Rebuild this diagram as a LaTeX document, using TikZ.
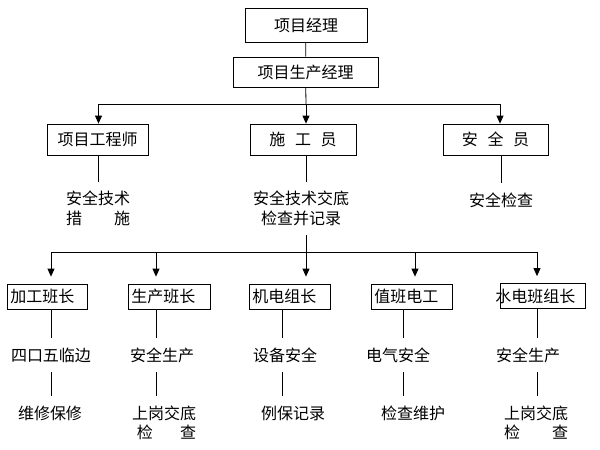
\documentclass[tikz,border=0pt]{standalone}
\usepackage{fontspec}
\setmainfont{Noto Sans CJK SC}
\usetikzlibrary{arrows.meta}

\begin{document}
\begin{tikzpicture}[x=1pt,y=-1pt,>={Triangle[width=7pt,length=8pt]},thick,
    every node/.style={font=\fontsize{16}{19.5}\selectfont},
    post node/.style={draw,inner sep=0pt},
    crew node/.style={draw,anchor=west,minimum height=25,inner xsep=3pt,inner ysep=0pt,align=left},
    duty node/.style={align=center,inner xsep=0pt,inner ysep=9pt}]

  \useasboundingbox (0,0) rectangle (600,450);

  % management
  \node[post node,minimum width=122,minimum height=34] (pm) at (306,25) {项目经理};
  \node[post node,minimum width=145,minimum height=30] (ppm) at (305.5,72) {项目生产经理};
  \node[post node,minimum width=101,minimum height=31] (eng) at (97.5,139.5) {项目工程师};
  \node[post node,minimum width=106,minimum height=31] (sup) at (303,139.5) {施\hspace{0.6em}工\hspace{0.6em}员};
  \node[post node,minimum width=105,minimum height=31] (saf) at (495.5,139.5) {安\hspace{0.6em}全\hspace{0.6em}员};

  \node[duty node] (engd) at (98,208.5) {安全技术\\\makebox[4em]{措\hfill 施}};
  \node[duty node] (supd) at (301,208.5) {安全技术交底\\检查并记录};
  \node[duty node] (safd) at (501,200) {安全检查};

  % teams
  \node[crew node,text width=74] (g1) at (7,296.5) {加工班长};
  \node[crew node,text width=76] (g2) at (128,296.5) {生产班长};
  \node[crew node,text width=75] (g3) at (249,296.5) {机电组长};
  \node[crew node,text width=75] (g4) at (371,296.5) {值班电工};
  \node[crew node,text width=79] (g5) at (500,296) {\hspace*{-8pt}水电班组长};

  \node[duty node] (d1) at (51,355) {四口五临边};
  \node[duty node] (d2) at (162,355) {安全生产};
  \node[duty node] (d3) at (285,355) {设备安全};
  \node[duty node] (d4) at (398,355) {电气安全};
  \node[duty node] (d5) at (528,355) {安全生产};

  \node[duty node] (e1) at (50,413) {维修保修};
  \node[duty node] (e2) at (164,423) {上岗交底\\\makebox[4em]{\hspace{0.3em}检\hfill 查}};
  \node[duty node] (e3) at (293,413) {例保记录};
  \node[duty node] (e4) at (413,413) {检查维护};
  \node[duty node] (e5) at (536,423) {上岗交底\\\makebox[4em]{检\hfill 查}};

  \coordinate (bus) at (306,104);
  \foreach \i/\x in {1/51,2/156,3/306,4/415,5/537}
    \coordinate (b\i) at (\x,252);
  \foreach \i/\x in {1/51,2/156,3/282,4/403,5/537}
    \coordinate (k\i) at (\x,252);

  \path (pm) edge (ppm)
        (ppm) edge (bus);
  \draw[->] (bus) -| ([xshift=1pt]eng.north);
  \draw[->] (bus) -- (bus |- sup.north);
  \draw[->] (bus) -| ([xshift=4.5pt]saf.north);

  \draw (eng.south -| engd) -- (engd.north);
  \draw (bus |- sup.south) -- (bus |- supd.north);
  \draw (safd |- saf.south) -- (safd.north);

  \draw (b1) -- (b5);
  \draw (b3 |- supd.south) -- (b3);
  \foreach \i in {1,...,5} {
    \draw[->,shorten >=7pt] (b\i) -- (b\i |- g\i.north);
    \draw (k\i |- g\i.south) -- (k\i |- d\i.north);
    \draw (k\i |- d\i.south) -- (k\i |- e\i.north);
  }

\end{tikzpicture}
\end{document}
